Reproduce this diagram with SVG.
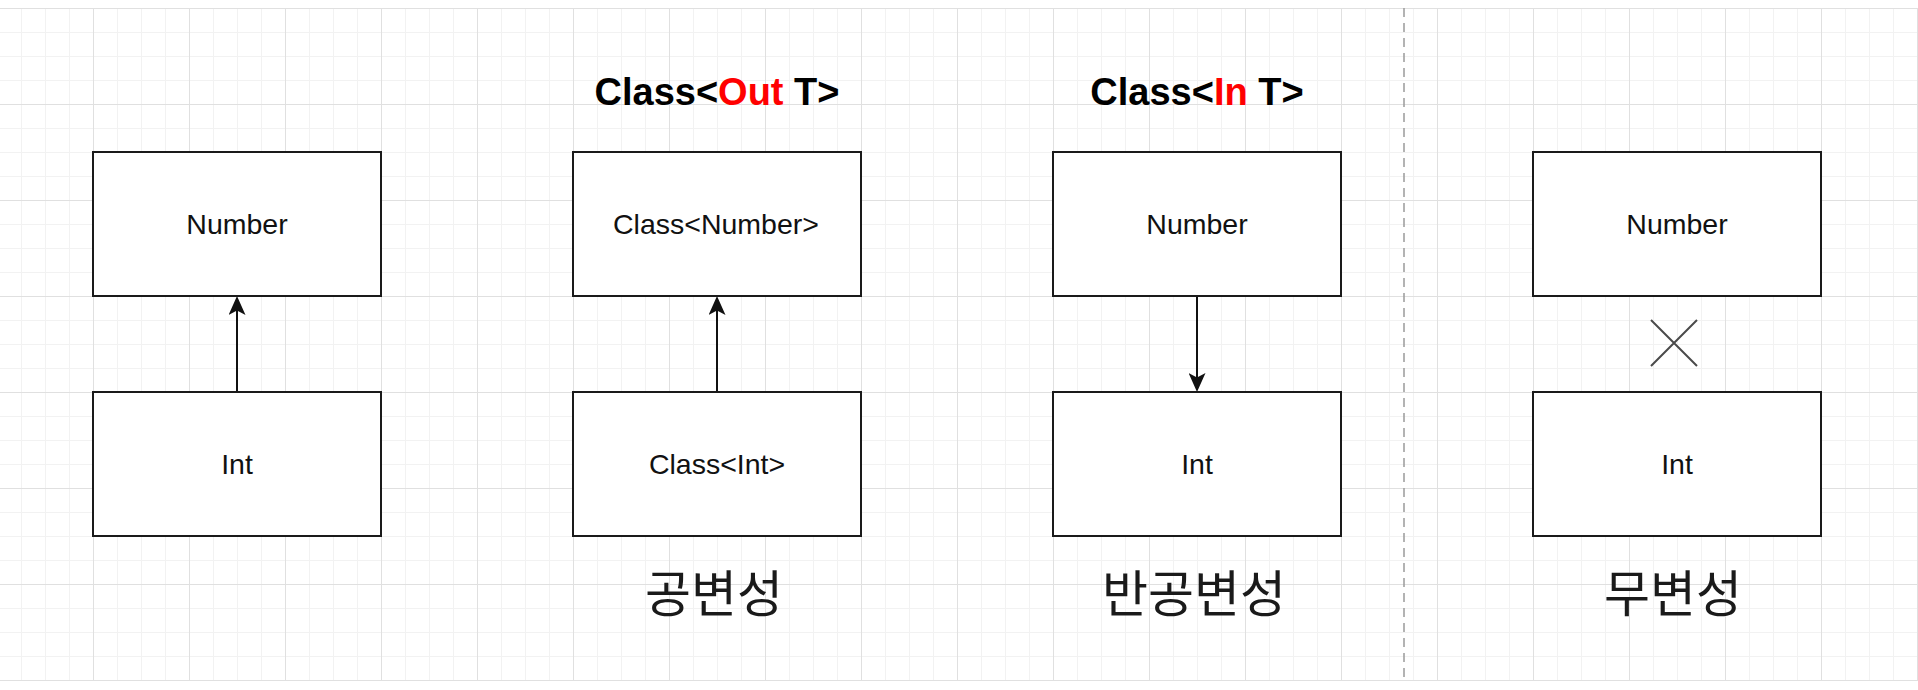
<svg xmlns="http://www.w3.org/2000/svg" width="1918" height="690" viewBox="0 0 1918 690">
  <style>
    .box { fill: #ffffff; stroke: #1a1a1a; stroke-width: 2; }
    .lbl { font-family: "Liberation Sans", Arial, sans-serif; font-size: 28.5px; fill: #111111; text-anchor: middle; }
    .title { font-family: "Liberation Sans", Arial, sans-serif; font-size: 38px; font-weight: bold; fill: #000000; text-anchor: middle; }
    .red { fill: #ff0000; }
    .kor { font-family: "Noto Sans CJK KR", "Noto Sans", sans-serif; font-size: 50px; fill: #1a1a1a; text-anchor: middle; }
    .conn { stroke: #111111; stroke-width: 2; fill: none; }
  </style>
  <defs>
    <pattern id="grid" patternUnits="userSpaceOnUse" x="-3" y="8" width="96" height="96">
      <rect x="0" y="0" width="96" height="96" fill="#ffffff"/>
      <rect x="24" y="0" width="1" height="96" fill="#f2f2f2"/>
      <rect x="48" y="0" width="1" height="96" fill="#f2f2f2"/>
      <rect x="72" y="0" width="1" height="96" fill="#f2f2f2"/>
      <rect x="0" y="24" width="96" height="1" fill="#f2f2f2"/>
      <rect x="0" y="48" width="96" height="1" fill="#f2f2f2"/>
      <rect x="0" y="72" width="96" height="1" fill="#f2f2f2"/>
      <rect x="0" y="0" width="1" height="96" fill="#e0e0e0"/>
      <rect x="0" y="0" width="96" height="1" fill="#e0e0e0"/>
    </pattern>
    <marker id="arrow" markerUnits="userSpaceOnUse" viewBox="0 0 19 17" markerWidth="19" markerHeight="17" refX="15" refY="8.5" orient="auto">
      <path d="M0,0 L19,8.5 L0,17 L4.5,8.5 Z" fill="#111111"/>
    </marker>
  </defs>

  <rect x="0" y="0" width="1918" height="690" fill="#ffffff"/>
  <rect x="0" y="8" width="1918" height="673" fill="url(#grid)"/>
  <line x1="1404" y1="8" x2="1404" y2="681" stroke="#9a9a9a" stroke-width="1.5" stroke-dasharray="9 6"/>

  <g id="titles">
    <text class="title" x="717" y="105">Class&lt;<tspan class="red">Out</tspan> T&gt;</text>
    <text class="title" x="1197" y="105">Class&lt;<tspan class="red">In</tspan> T&gt;</text>
  </g>

  <g id="connectors">
    <line class="conn" x1="237" y1="392" x2="237" y2="300" marker-end="url(#arrow)"/>
    <line class="conn" x1="717" y1="392" x2="717" y2="300" marker-end="url(#arrow)"/>
    <line class="conn" x1="1197" y1="296" x2="1197" y2="388" marker-end="url(#arrow)"/>
  </g>

  <g id="n1-number"><rect class="box" x="93" y="152" width="288" height="144"/><text class="lbl" x="237" y="234">Number</text></g>
  <g id="n1-int"><rect class="box" x="93" y="392" width="288" height="144"/><text class="lbl" x="237" y="474">Int</text></g>

  <g id="n2-number"><rect class="box" x="573" y="152" width="288" height="144"/><text class="lbl" x="716" y="234">Class&lt;Number&gt;</text></g>
  <g id="n2-int"><rect class="box" x="573" y="392" width="288" height="144"/><text class="lbl" x="717" y="474">Class&lt;Int&gt;</text></g>

  <g id="n3-number"><rect class="box" x="1053" y="152" width="288" height="144"/><text class="lbl" x="1197" y="234">Number</text></g>
  <g id="n3-int"><rect class="box" x="1053" y="392" width="288" height="144"/><text class="lbl" x="1197" y="474">Int</text></g>

  <g id="n4-number"><rect class="box" x="1533" y="152" width="288" height="144"/><text class="lbl" x="1677" y="234">Number</text></g>
  <g id="n4-int"><rect class="box" x="1533" y="392" width="288" height="144"/><text class="lbl" x="1677" y="474">Int</text></g>

  <g id="cross">
    <path d="M1651,320 L1697,366 M1697,320 L1651,366" stroke="#4a4a4a" stroke-width="2" fill="none"/>
  </g>

  <g id="captions">
    <text class="kor" x="714" y="612">공변성</text>
    <text class="kor" x="1194" y="612">반공변성</text>
    <text class="kor" x="1673" y="612">무변성</text>
  </g>
</svg>
